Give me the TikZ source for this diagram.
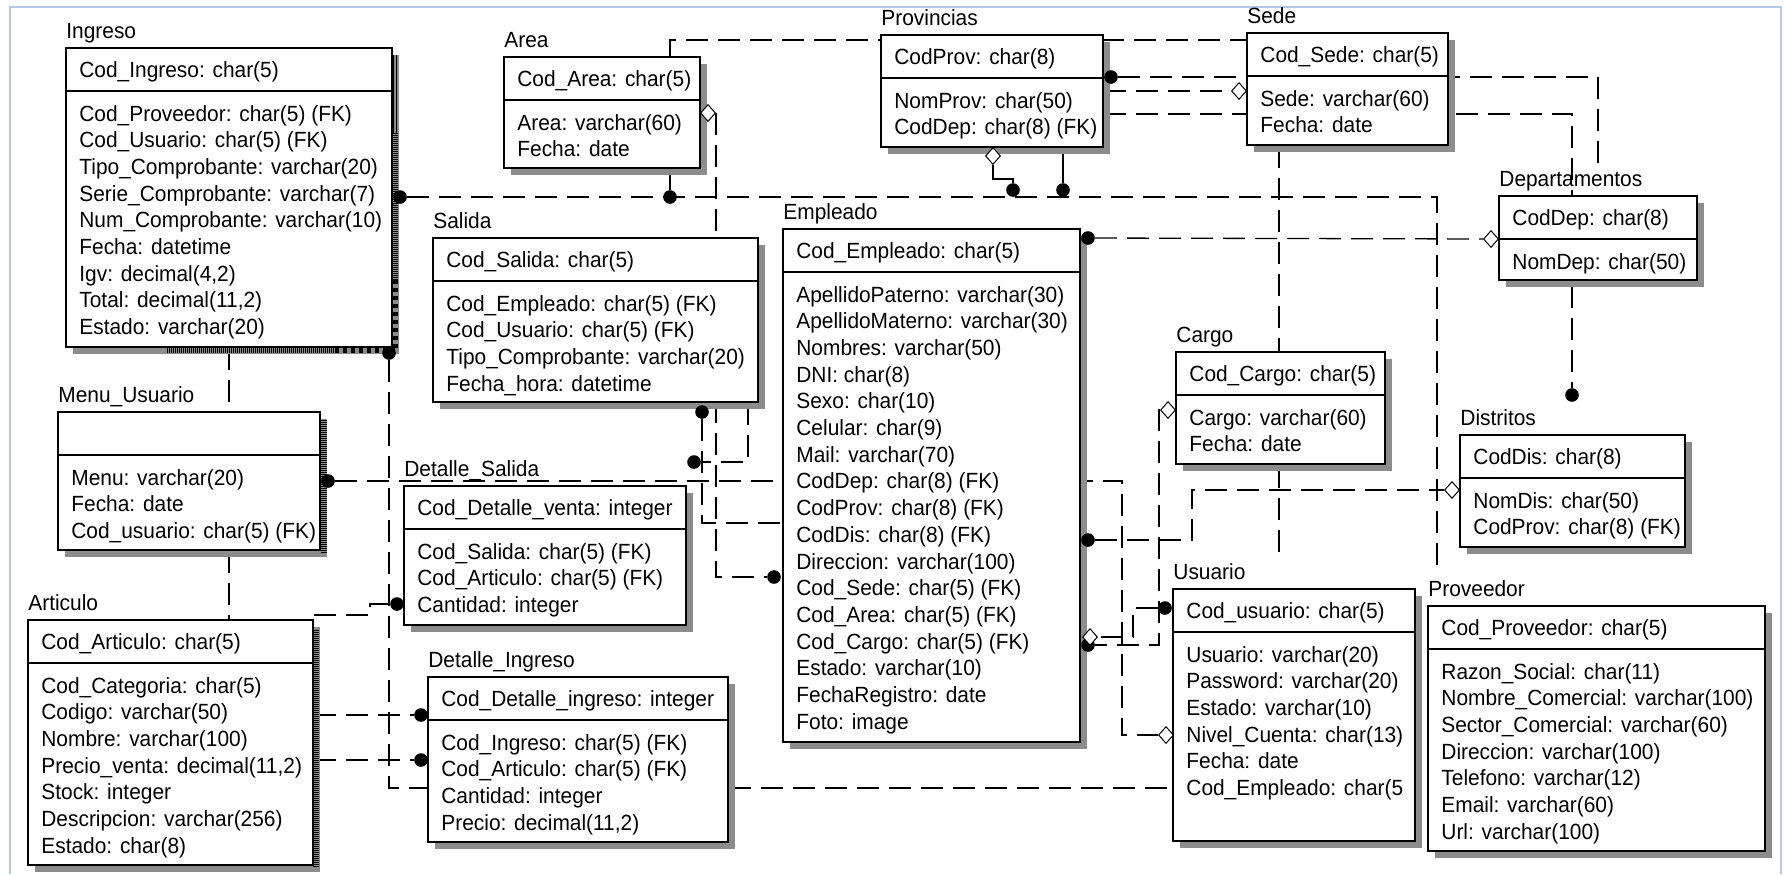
\documentclass[tikz,border=0pt]{standalone}
\usepackage{fontspec}
\setmainfont{Liberation Sans}[FakeStretch=0.95]
\usetikzlibrary{shapes.geometric,fit}
\definecolor{framec}{RGB}{180,199,231}
\definecolor{shadowc}{gray}{0.55}
\pgfdeclarelayer{bg}
\pgfsetlayers{bg,main}
\tikzset{
  ebox/.style={draw, line width=0.75pt, fill=white, inner sep=0pt},
  rel/.style={line width=0.65pt, dash pattern=on 11pt off 5pt},
  solidrel/.style={line width=0.65pt},
  dotend/.style={circle, fill=black, inner sep=0pt, minimum size=6.8pt},
  diaend/.style={diamond, draw, fill=white, line width=0.5pt, inner sep=0pt, minimum width=7.5pt, minimum height=8.5pt},
  lbl/.style={anchor=base west, inner sep=0pt, font=\fontsize{11pt}{13pt}\selectfont},
  hatch/.style={line width=3pt, dash pattern=on 0.5pt off 0.5pt},
  hatchb/.style={line width=2.5pt, dash pattern=on 2pt off 2pt},
}
% #1 name, #2 title, #3 L, #4 T, #5 R, #6 B, #7 key, #8 attributes
\newcommand{\erbox}[8]{%
  \fill[shadowc] (#3+7,#4+7) rectangle (#5+7,#6+7);
  \node[ebox, fit={(#3,#4) (#5,#6)}] (#1) {};
  \draw[line width=0.75pt] (#3,#4+43) -- (#5,#4+43);
  \node[lbl] (#1-t) at (#3,#4-10) {#2};
  \node[lbl] (#1-k) at (#3+13,#4+29) {#7};
  \foreach \a [count=\i from 0] in {#8} {\node[lbl] (#1-a\i) at (#3+13,#4+73+\i*26.7) {\a};}
}
\begin{document}
\begin{tikzpicture}[x=0.5pt,y=-0.5pt]
\useasboundingbox (0,0) rectangle (1784,874);
\draw[framec, line width=1pt] (10,874) -- (10,7) -- (1781,7) -- (1781,874);

% ---------- entities ----------
\erbox{ingreso}{Ingreso}{66}{48}{392}{347}{Cod\_Ingreso: char(5)}%
 {{Cod\_Proveedor: char(5) (FK)},{Cod\_Usuario: char(5) (FK)},{Tipo\_Comprobante: varchar(20)},{Serie\_Comprobante: varchar(7)},{Num\_Comprobante: varchar(10)},{Fecha: datetime},{Igv: decimal(4,2)},{Total: decimal(11,2)},{Estado: varchar(20)}}
\erbox{menu}{Menu\_Usuario}{58}{412}{320}{550}{}%
 {{Menu: varchar(20)},{Fecha: date},{Cod\_usuario: char(5) (FK)}}
\erbox{articulo}{Articulo}{28}{620}{313}{865}{Cod\_Articulo: char(5)}%
 {{Cod\_Categoria: char(5)},{Codigo: varchar(50)},{Nombre: varchar(100)},{Precio\_venta: decimal(11,2)},{Stock: integer},{Descripcion: varchar(256)},{Estado: char(8)}}
\erbox{area}{Area}{504}{57}{700}{168}{Cod\_Area: char(5)}%
 {{Area: varchar(60)},{Fecha: date}}
\erbox{salida}{Salida}{433}{238}{758}{402}{Cod\_Salida: char(5)}%
 {{Cod\_Empleado: char(5) (FK)},{Cod\_Usuario: char(5) (FK)},{Tipo\_Comprobante: varchar(20)},{Fecha\_hora: datetime}}
\erbox{dsalida}{Detalle\_Salida}{404}{486}{686}{625}{Cod\_Detalle\_venta: integer}%
 {{Cod\_Salida: char(5) (FK)},{Cod\_Articulo: char(5) (FK)},{Cantidad: integer}}
\erbox{dingreso}{Detalle\_Ingreso}{428}{677}{728}{842}{Cod\_Detalle\_ingreso: integer}%
 {{Cod\_Ingreso: char(5) (FK)},{Cod\_Articulo: char(5) (FK)},{Cantidad: integer},{Precio: decimal(11,2)}}
\erbox{empleado}{Empleado}{783}{229}{1080}{742}{Cod\_Empleado: char(5)}%
 {{ApellidoPaterno: varchar(30)},{ApellidoMaterno: varchar(30)},{Nombres: varchar(50)},{DNI: char(8)},{Sexo: char(10)},{Celular: char(9)},{Mail: varchar(70)},{CodDep: char(8) (FK)},{CodProv: char(8) (FK)},{CodDis: char(8) (FK)},{Direccion: varchar(100)},{Cod\_Sede: char(5) (FK)},{Cod\_Area: char(5) (FK)},{Cod\_Cargo: char(5) (FK)},{Estado: varchar(10)},{FechaRegistro: date},{Foto: image}}
\erbox{prov}{Provincias}{881}{35}{1103}{147}{CodProv: char(8)}%
 {{NomProv: char(50)},{CodDep: char(8) (FK)}}
\erbox{sede}{Sede}{1247}{33}{1448}{145}{Cod\_Sede: char(5)}%
 {{Sede: varchar(60)},{Fecha: date}}
\erbox{dep}{Departamentos}{1499}{196}{1697}{280}{CodDep: char(8)}%
 {{NomDep: char(50)}}
\erbox{cargo}{Cargo}{1176}{352}{1385}{464}{Cod\_Cargo: char(5)}%
 {{Cargo: varchar(60)},{Fecha: date}}
\erbox{dist}{Distritos}{1460}{435}{1685}{547}{CodDis: char(8)}%
 {{NomDis: char(50)},{CodProv: char(8) (FK)}}
\erbox{usuario}{Usuario}{1173}{589}{1415}{841}{Cod\_usuario: char(5)}%
 {{Usuario: varchar(20)},{Password: varchar(20)},{Estado: varchar(10)},{Nivel\_Cuenta: char(13)},{Fecha: date},{Cod\_Empleado: char(5}}
\erbox{proveedor}{Proveedor}{1428}{606}{1765}{851}{Cod\_Proveedor: char(5)}%
 {{Razon\_Social: char(11)},{Nombre\_Comercial: varchar(100)},{Sector\_Comercial: varchar(60)},{Direccion: varchar(100)},{Telefono: varchar(12)},{Email: varchar(60)},{Url: varchar(100)}}

% heavy edge patterns
\draw[line width=0.5pt] (393.5,55) -- (393.5,133);
\draw[line width=0.5pt] (396.5,55) -- (396.5,133);
\draw[hatch] (395,133) -- (395,280);
\draw[hatchb] (395,280) -- (395,350);
\draw[hatch] (167,350) -- (335,350);
\draw[hatchb] (335,350) -- (395,350);
\draw[hatch] (324,420) -- (324,553);
\draw[hatch] (316,630) -- (316,868);

% ---------- relationship ends ----------
\node[dotend] (dIng1) at (400,197) {};
\node[dotend] (dIng2) at (389,353) {};
\node[dotend] (dArea) at (670,197) {};
\node[dotend] (dProv1) at (1013,190) {};
\node[dotend] (dProv2) at (1063,190) {};
\node[dotend] (dMenu) at (328,481) {};
\node[dotend] (dDS) at (397,604) {};
\node[dotend] (dDI1) at (421,715) {};
\node[dotend] (dDI2) at (421,760) {};
\node[dotend] (dSal1) at (702,412) {};
\node[dotend] (dSal2) at (694,462) {};
\node[dotend] (dEmpL) at (774,577) {};
\node[dotend] (dEmpR1) at (1088,238) {};
\node[dotend] (dEmpR2) at (1088,540) {};
\node[dotend] (dEmpR3) at (1088,645) {};
\node[dotend] (dUsu) at (1165,608) {};
\node[dotend] (dProvR) at (1111,77) {};
\node[dotend] (dDist) at (1572,395) {};
\node[diaend] (gArea) at (708,113) {};
\node[diaend] (gProv) at (993,156) {};
\node[diaend] (gSede) at (1239,91) {};
\node[diaend] (gDep) at (1491,239) {};
\node[diaend] (gCargo) at (1168,410) {};
\node[diaend] (gDist) at (1452,490) {};
\node[diaend] (gEmp) at (1090,637) {};
\node[diaend] (gUsu) at (1166,735) {};

% ---------- connectors ----------
\begin{pgfonlayer}{bg}
\draw[rel] (dIng1) -- (1437,197) -- (1437,575);
\draw[solidrel] (dArea |- area.south) -- (dArea);
\draw[solidrel] (dProv2 |- prov.south) -- (dProv2);
\draw[solidrel] (gProv.south) -- (993,179) -- (1013,179) -- (dProv1);
\draw[rel] (gArea.east) -- (716,113) -- (716,577) -- (dEmpL);
\draw[rel] (dIng2) -- (389,788) -- (389,788 -| usuario.west);
\draw[rel] (dMenu) -- (1122,481) -- (1122,735) -- (gUsu);
\draw[rel] (229,0 |- ingreso.south) -- (229,0 |- menu.north);
\draw[rel] (229,0 |- menu.south) -- (229,0 |- articulo.north);
\draw[rel] (articulo.east |- 0,615) -- (370,615) -- (370,604) -- (dDS);
\draw[rel] (articulo.east |- 0,715) -- (dDI1);
\draw[rel] (articulo.east |- 0,760) -- (dDI2);
\draw[rel] (670,0 |- area.north) -- (670,40) -- (sede.west |- 0,40);
\draw[rel] (dProvR) -- (1598,77) -- (1598,167);
\draw[rel] (prov.east |- 0,91) -- (gSede);
\draw[rel] (prov.east |- 0,114) -- (1572,114) -- (dDist);
\draw[rel] (dEmpR1) -- (gDep);
\draw[rel] (1279,0 |- sede.south) -- (1279,558);
\draw[rel] (dEmpR2) -- (1192,540) -- (1192,490) -- (gDist);
\draw[rel] (gCargo) -- (1159,410) -- (1159,645) -- (dEmpR3);
\draw[rel] (dUsu) -- (1133,608) -- (1133,637) -- (gEmp);
\draw[rel] (dSal1) -- (702,523) -- (702,523 -| empleado.west);
\draw[rel] (748,0 |- salida.south) -- (748,462) -- (dSal2);
\end{pgfonlayer}
\end{tikzpicture}
\end{document}
